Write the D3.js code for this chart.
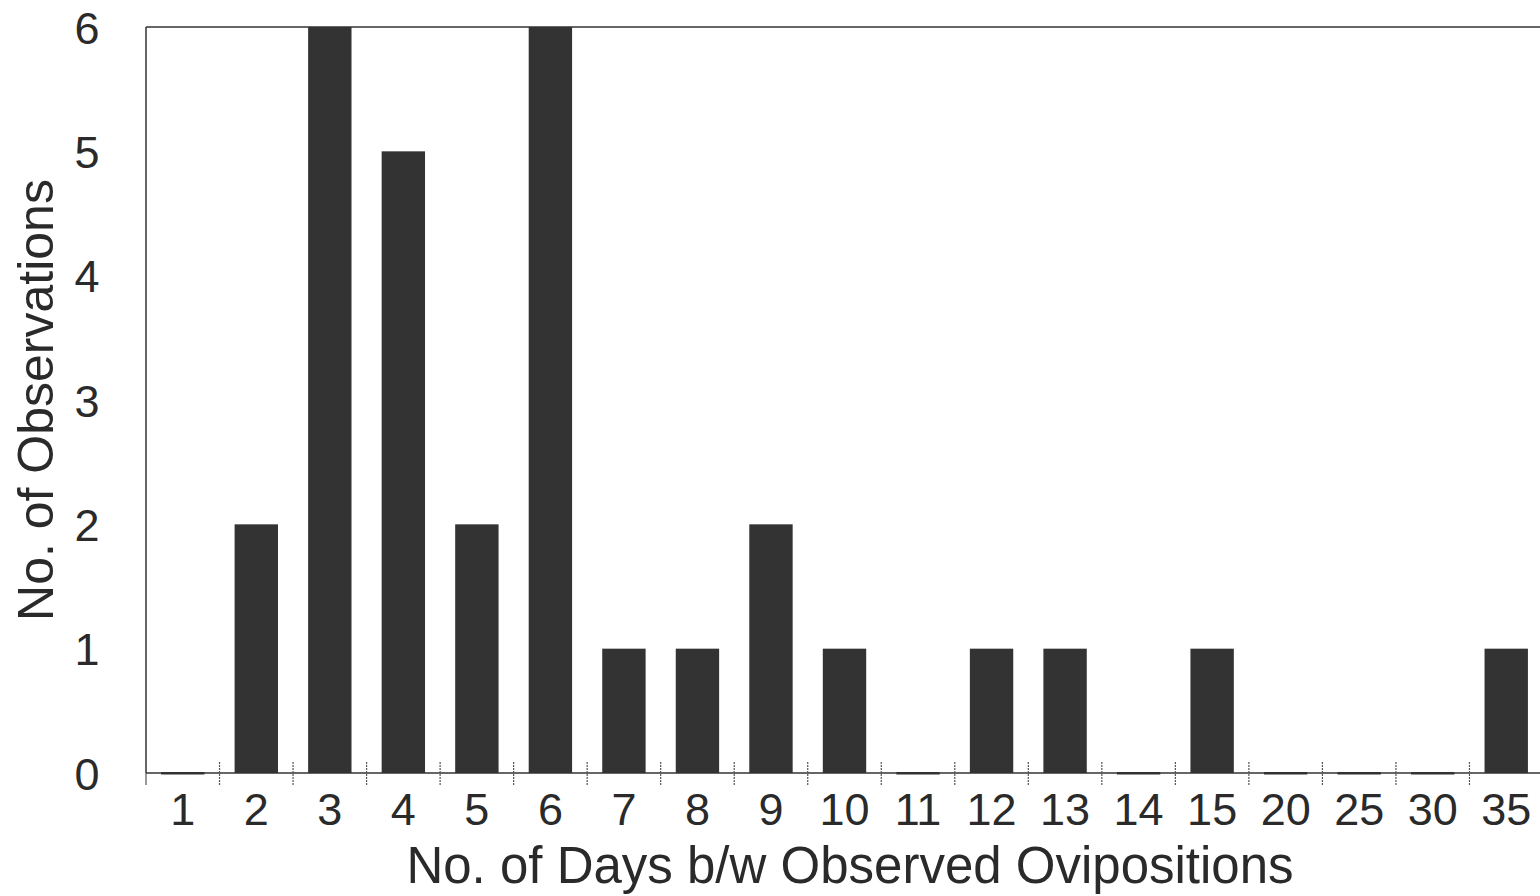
<!DOCTYPE html>
<html>
<head>
<meta charset="utf-8">
<script src="https://cdn.jsdelivr.net/npm/d3@7"></script>
<style>
  html, body { margin: 0; padding: 0; background: #fff; }
  svg { display: block; }
  text { font-family: "Liberation Sans", Arial, Helvetica, sans-serif; fill: #2a2a2a; }
</style>
</head>
<body>
<svg id="chart" width="1540" height="896"></svg>
<script>
// Interval between observed ovipositions (days) and how often each occurred
const days = ["1", "2", "3", "4", "5", "6", "7", "8", "9", "10", "11", "12", "13", "14", "15", "20", "25", "30", "35"];
const observations = [0, 2, 6, 5, 2, 6, 1, 1, 2, 1, 0, 1, 1, 0, 1, 0, 0, 0, 1];
const yTicks = [0, 1, 2, 3, 4, 5, 6];

const svg = d3.select("#chart");
const margin = { left: 146, top: 27, right: -3, bottom: 123 };
const width = 1540 - margin.left - margin.right;
const height = 896 - margin.top - margin.bottom;

const g = svg.append("g").attr("transform", `translate(${margin.left},${margin.top})`);

const x = d3.scaleBand().domain(days).range([0, width]).paddingInner(0.41).paddingOuter(0.205);
const y = d3.scaleLinear().domain([0, 6]).range([height, 0]);

// frame: left and top edges
g.append("line").attr("x1", 0).attr("x2", 0).attr("y1", 0).attr("y2", height)
  .attr("stroke", "#333").attr("stroke-width", 1.5);
g.append("line").attr("x1", 0).attr("x2", width).attr("y1", 0).attr("y2", 0)
  .attr("stroke", "#333").attr("stroke-width", 1.5);

// bars (zero counts still leave a thin mark on the baseline)
g.selectAll("rect.bar").data(days).join("rect")
  .attr("class", "bar")
  .attr("x", d => x(d))
  .attr("width", x.bandwidth())
  .attr("y", (d, i) => observations[i] > 0 ? y(observations[i]) : height - 1)
  .attr("height", (d, i) => observations[i] > 0 ? height - y(observations[i]) : 2.5)
  .attr("fill", "#333");

// x axis: ticks sit between categories
const step = x.step();
const boundaries = days.map((d, i) => i * step);
g.append("line").attr("x1", 0).attr("x2", width).attr("y1", height).attr("y2", height)
  .attr("stroke", "#333").attr("stroke-width", 1.5);
g.selectAll("line.tick").data(boundaries.slice(1)).join("line")
  .attr("class", "tick")
  .attr("x1", d => d).attr("x2", d => d)
  .attr("y1", height - 11).attr("y2", height + 12)
  .attr("stroke", "#555").attr("stroke-width", 1.2)
  .attr("stroke-dasharray", "2,1");
g.append("line").attr("x1", 0).attr("x2", 0).attr("y1", height).attr("y2", height + 12)
  .attr("stroke", "#555").attr("stroke-width", 1.2);

const xAxis = d3.axisBottom(x).tickSize(0).tickPadding(0);
const xa = g.append("g").attr("transform", `translate(0,${height})`).call(xAxis);
xa.select(".domain").remove();
xa.selectAll("text")
  .attr("y", 52).attr("dy", 0)
  .style("font-size", "45px").style("font-family", "'Liberation Sans', Arial, sans-serif").attr("fill", "#2a2a2a");

// y axis labels (no tick marks)
const yAxis = d3.axisLeft(y).tickValues(yTicks).tickSize(0).tickPadding(0).tickFormat(d3.format("d"));
const ya = g.append("g").attr("transform", "translate(-45,0)").call(yAxis);
ya.select(".domain").remove();
ya.selectAll("text")
  .attr("text-anchor", "middle").attr("x", -14).attr("dy", "0.36em")
  .style("font-size", "45px").style("font-family", "'Liberation Sans', Arial, sans-serif").attr("fill", "#2a2a2a");

// axis titles
svg.append("text")
  .attr("x", 850).attr("y", 883)
  .attr("text-anchor", "middle")
  .style("font-size", "51px")
  .text("No. of Days b/w Observed Ovipositions");

svg.append("text")
  .attr("transform", "translate(53,400) rotate(-90)")
  .attr("text-anchor", "middle")
  .style("font-size", "50px")
  .text("No. of Observations");
</script>
</body>
</html>
